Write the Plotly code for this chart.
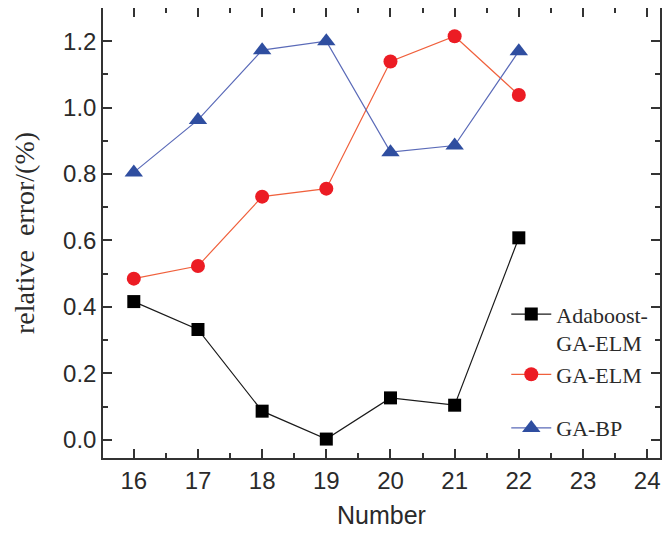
import plotly.graph_objects as go

numbers = [16, 17, 18, 19, 20, 21, 22]
adaboost_ga_elm = [0.416, 0.332, 0.086, 0.002, 0.126, 0.104, 0.608]
ga_elm = [0.485, 0.523, 0.732, 0.756, 1.139, 1.215, 1.038]
ga_bp = [0.805, 0.963, 1.173, 1.200, 0.866, 0.886, 1.170]

series_names = ["Adaboost-<br>GA-ELM", "GA-ELM", "GA-BP"]
x_ticks = [16, 17, 18, 19, 20, 21, 22, 23, 24]
y_ticks = [0.0, 0.2, 0.4, 0.6, 0.8, 1.0, 1.2]

fig = go.Figure()
fig.add_trace(go.Scatter(
    x=numbers, y=adaboost_ga_elm, name=series_names[0], mode="lines+markers",
    line=dict(color="#1a1a1a", width=1.2),
    marker=dict(symbol="square", size=13, color="#000000"),
    legendgroup="a"))
fig.add_trace(go.Scatter(
    x=numbers, y=ga_elm, name=series_names[1], mode="lines+markers",
    line=dict(color="#f0603c", width=1.2),
    marker=dict(symbol="circle", size=14, color="#ec1c24"),
    legendgroup="a"))
fig.add_trace(go.Scatter(
    x=numbers, y=ga_bp, name=series_names[2], mode="lines+markers",
    line=dict(color="#5a6ab8", width=1.2),
    marker=dict(symbol="triangle-up", size=16, color="#2f4ea0"),
    legendgroup="c"))

axis_common = dict(
    showline=True, linecolor="#333333", linewidth=1.5, mirror="ticks",
    ticks="inside", tickcolor="#333333", tickwidth=1.5, ticklen=9,
    showgrid=False, zeroline=False,
    tickfont=dict(family="Liberation Sans, Arial", size=24, color="#2a2a2a"),
)

fig.update_layout(
    width=662, height=526,
    paper_bgcolor="white", plot_bgcolor="white",
    margin=dict(l=95, r=10, t=0, b=76),
    xaxis=dict(
        range=[15.52, 24.2], tickmode="array", tickvals=x_ticks,
        minor=dict(ticks="inside", dtick=0.5, ticklen=5, tickcolor="#333333", tickwidth=1.5),
        title=dict(text="Number", font=dict(family="Liberation Sans, Arial", size=25, color="#2a2a2a"), standoff=14),
        automargin=False,
        **axis_common),
    yaxis=dict(
        range=[-0.055, 1.30], tickmode="array", tickvals=y_ticks, tickformat=".1f",
        minor=dict(ticks="inside", dtick=0.1, ticklen=5, tickcolor="#333333", tickwidth=1.5),
        title=dict(text="relative  error/(%)", font=dict(family="Liberation Serif, Times New Roman", size=28, color="#2a2a2a"), standoff=20),
        automargin=False,
        **axis_common),
    legend=dict(
        x=0.724, y=0.366, xanchor="left", yanchor="top",
        bgcolor="rgba(0,0,0,0)", borderwidth=0,
        font=dict(family="Liberation Serif, Times New Roman", size=22, color="#2a2a2a"),
        itemwidth=40, valign="top", tracegroupgap=22, traceorder="grouped",
    ),
    showlegend=True,
)

fig.write_html("out.html")
